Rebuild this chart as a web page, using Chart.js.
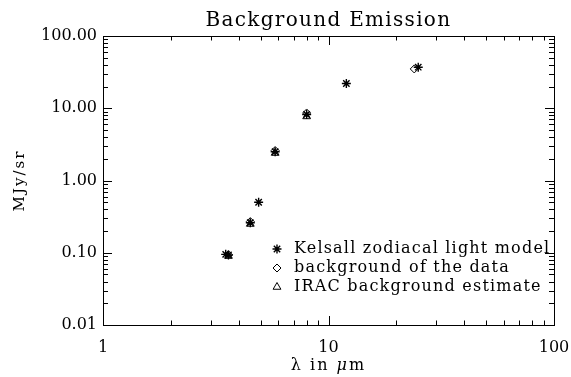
<!DOCTYPE html>
<html>
<head>
<meta charset="utf-8">
<script src="https://cdn.jsdelivr.net/npm/chart.js@4/dist/chart.umd.min.js"></script>
<style>
  html, body { margin: 0; padding: 0; background: #fff; }
  #wrap { width: 571px; height: 377px; }
</style>
</head>
<body>
<div id="wrap"><canvas id="bgChart" width="571" height="377"></canvas></div>
<script>
// wavelengths (micron) and surface brightness (MJy/sr)
const kelsallWave = [3.5, 3.6, 4.5, 4.9, 5.8, 8.0, 12, 25];
const kelsallFlux = [0.095, 0.093, 0.26, 0.5, 2.5, 8.2, 22, 37];
const dataWave = [3.6, 4.5, 5.8, 8.0, 24];
const dataFlux = [0.094, 0.27, 2.6, 8.6, 35];
const iracWave = [3.6, 4.5, 5.8, 8.0];
const iracFlux = [0.09, 0.25, 2.4, 7.7];

const xTicks = [1, 10, 100];
const yTicks = [0.01, 0.1, 1, 10, 100];

const seriesNames = ['Kelsall zodiacal light model', 'background of the data', 'IRAC background estimate'];
const chartTitle = 'Background Emission';
const yTitle = 'MJy/sr';

const serif = "'DejaVu Serif', 'Liberation Serif', serif";

function pts(xs, ys) {
    return xs.map((x, i) => ({ x: x, y: ys[i] }));
}

// IDL style box with inward major/minor ticks, titles and the legend inside the plot
const idlBox = {
    id: 'idlBox',
    afterDraw(chart) {
        const ctx = chart.ctx;
        const a = chart.chartArea;
        const xs = chart.scales.x, ys = chart.scales.y;
        ctx.save();
        ctx.strokeStyle = '#000';
        ctx.lineWidth = 1;
        ctx.strokeRect(a.left + 0.5, a.top + 0.5, a.right - a.left, a.bottom - a.top);

        ctx.beginPath();
        // x ticks
        for (let d = 1; d <= 100; d *= 10) {
            for (let k = 1; k <= 9; k++) {
                const v = d * k;
                if (v > 100) break;
                const px = Math.round(xs.getPixelForValue(v)) + 0.5;
                const len = k === 1 ? 9 : 4.5;
                ctx.moveTo(px, a.bottom); ctx.lineTo(px, a.bottom - len);
                ctx.moveTo(px, a.top); ctx.lineTo(px, a.top + len);
            }
        }
        // y ticks
        for (let d = 0.01; d <= 100.5; d *= 10) {
            for (let k = 1; k <= 9; k++) {
                const v = d * k;
                if (v > 100.5) break;
                const py = Math.round(ys.getPixelForValue(v)) + 0.5;
                const len = k === 1 ? 9 : 5;
                ctx.moveTo(a.left, py); ctx.lineTo(a.left + len, py);
                ctx.moveTo(a.right, py); ctx.lineTo(a.right - len, py);
            }
        }
        ctx.stroke();

        ctx.fillStyle = '#000';

        // title
        ctx.font = '20px ' + serif;
        ctx.letterSpacing = '1.3px';
        ctx.textAlign = 'center';
        ctx.textBaseline = 'alphabetic';
        ctx.fillText(chartTitle, (a.left + a.right) / 2, 26);

        // x axis title, with italic mu
        const cx = (a.left + a.right) / 2;
        ctx.letterSpacing = '2px';
        ctx.textAlign = 'left';
        ctx.textBaseline = 'middle';
        const up = '16px ' + serif, it = 'italic 16px ' + serif;
        const parts = [['λ in ', up], ['μ', it], ['m', up]];
        let w = 0;
        parts.forEach(p => { ctx.font = p[1]; w += ctx.measureText(p[0]).width; });
        let tx = cx - w / 2;
        parts.forEach(p => {
            ctx.font = p[1];
            ctx.fillText(p[0], tx, 366);
            tx += ctx.measureText(p[0]).width;
        });

        // y axis title
        ctx.save();
        ctx.translate(20, (a.top + a.bottom) / 2);
        ctx.rotate(-Math.PI / 2);
        ctx.font = '15px ' + serif;
        ctx.letterSpacing = '2px';
        ctx.textAlign = 'center';
        ctx.fillText(yTitle, 0, 0);
        ctx.restore();

        // legend
        const lx = 277, ly = [249, 268, 287];
        ctx.font = '16px ' + serif;
        ctx.letterSpacing = '1.2px';
        ctx.textAlign = 'left';
        ctx.textBaseline = 'middle';
        chart.data.datasets.forEach((ds, i) => {
            ctx.strokeStyle = '#000';
            ctx.fillStyle = '#fff';
            ctx.lineWidth = ds.borderWidth;
            Chart.helpers.drawPoint(ctx, {
                pointStyle: ds.pointStyle, radius: ds.pointRadius, rotation: 0, borderWidth: ds.borderWidth
            }, lx, ly[i]);
            ctx.fillStyle = '#000';
            ctx.fillText(seriesNames[i], lx + 17, ly[i]);
        });
        ctx.restore();
    }
};

const ctx = document.getElementById('bgChart').getContext('2d');

const bgChart = new Chart(ctx, {
    type: 'scatter',
    data: {
        datasets: [{
            label: seriesNames[0],
            data: pts(kelsallWave, kelsallFlux),
            pointStyle: 'star',
            pointRadius: 4.5,
            borderColor: '#000',
            backgroundColor: '#000',
            borderWidth: 1.4
        }, {
            label: seriesNames[1],
            data: pts(dataWave, dataFlux),
            pointStyle: 'rectRot',
            pointRadius: 4,
            borderColor: '#000',
            backgroundColor: 'rgba(0,0,0,0)',
            borderWidth: 1
        }, {
            label: seriesNames[2],
            data: pts(iracWave, iracFlux),
            pointStyle: 'triangle',
            pointRadius: 4.5,
            borderColor: '#000',
            backgroundColor: 'rgba(0,0,0,0)',
            borderWidth: 1
        }]
    },
    options: {
        responsive: false,
        animation: false,
        events: [],
        layout: { padding: { left: 0, right: 17, top: 36, bottom: 0 } },
        plugins: {
            legend: { display: false },
            tooltip: { enabled: false },
            title: { display: false }
        },
        scales: {
            x: {
                type: 'logarithmic',
                min: 1,
                max: 100,
                afterBuildTicks: (s) => { s.ticks = xTicks.map(v => ({ value: v })); },
                afterFit: (s) => { s.height = 52; s.paddingLeft = 0; s.paddingRight = 0; },
                grid: { display: false, drawTicks: false },
                border: { display: false },
                ticks: {
                    color: '#000',
                    font: { family: serif, size: 16 },
                    padding: 13,
                    maxRotation: 0,
                    autoSkip: false,
                    callback: (v) => String(v)
                }
            },
            y: {
                type: 'logarithmic',
                min: 0.01,
                max: 100,
                afterBuildTicks: (s) => { s.ticks = yTicks.map(v => ({ value: v })); },
                afterFit: (s) => { s.width = 103; s.paddingTop = 0; s.paddingBottom = 0; },
                grid: { display: false, drawTicks: false },
                border: { display: false },
                ticks: {
                    color: '#000',
                    font: { family: serif, size: 16 },
                    padding: 6,
                    autoSkip: false,
                    callback: (v) => Number(v).toFixed(2)
                }
            }
        }
    },
    plugins: [idlBox]
});
</script>
</body>
</html>
